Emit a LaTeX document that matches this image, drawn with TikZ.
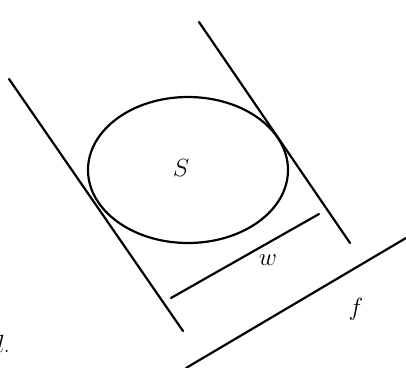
\documentclass[tikz,border=0pt]{standalone}
\begin{document}
\begin{tikzpicture}[x=1pt,y=-1pt,
  edge/.style={line width=2.2pt,line cap=round},
  lbl/.style={font=\fontsize{25}{30}\selectfont,inner sep=0pt}]
\useasboundingbox (0,0) rectangle (406,367);
\clip (0,0) rectangle (406,367);
\coordinate (L1) at (9,79);
\coordinate (L2) at (183,331);
\coordinate (R1) at (199,22);
\coordinate (R2) at (350,243);
\coordinate (F1) at (186,368);
\coordinate (F2) at (406,238);
\coordinate (W1) at (171,298);
\coordinate (W2) at (319,214);
\draw[edge] (L1) -- (L2);
\draw[edge] (R1) -- (R2);
\draw[edge] (F1) -- (F2);
\draw[edge] (W1) -- (W2);
\draw[edge] (188,170) ellipse [x radius=100, y radius=73];
\node[lbl] (S) at (181,168) {$S$};
\node[lbl] (w) at (268,260) {$w$};
\node[lbl] (f) at (356,309) {$f$};
\node[lbl,anchor=base east] (d) at (10,352) {$d$.};
\end{tikzpicture}
\end{document}
